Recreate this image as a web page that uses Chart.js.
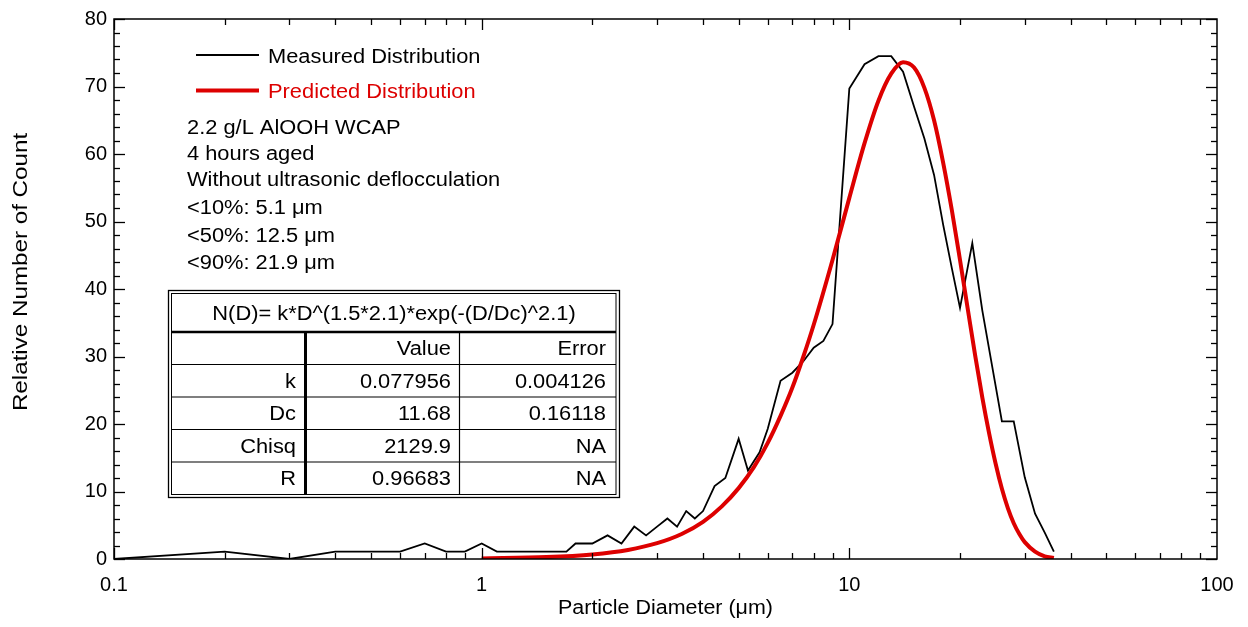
<!DOCTYPE html>
<html>
<head>
<meta charset="utf-8">
<script src="https://cdn.jsdelivr.net/npm/chart.js@4.4.0/dist/chart.umd.min.js"></script>
<style>
  html, body { margin: 0; padding: 0; background: #fff; }
  #wrap { width: 1248px; height: 627px; }
</style>
</head>
<body>
<div id="wrap"><canvas id="c" width="1248" height="627"></canvas></div>
<script>
// measured distribution
const measuredD = [0.1, 0.2, 0.3, 0.4, 0.5, 0.6, 0.7, 0.8, 0.9, 1.0,
  1.1, 1.2, 1.3, 1.4, 1.5, 1.6, 1.7, 1.8, 2.0, 2.2, 2.4, 2.6, 2.8, 3.0,
  3.2, 3.4, 3.6, 3.8, 4.0, 4.3, 4.6, 5.0, 5.3, 5.7, 6.0, 6.5, 7.0, 7.5,
  8.0, 8.5, 9.0, 10, 11, 12, 13, 14, 15, 16, 17, 18, 19, 20, 21.6, 23,
  26, 28, 30, 32, 34, 36];
const measuredN = [0, 1.1, 0, 1.1, 1.1, 1.1, 2.3, 1.1, 1.1, 2.3,
  1.1, 1.1, 1.1, 1.1, 1.1, 1.1, 1.1, 2.3, 2.3, 3.5, 2.3, 4.8, 3.5, 4.8,
  6.0, 4.8, 7.1, 6.0, 7.1, 10.8, 12.0, 17.8, 13.1, 15.8, 19.3, 26.4, 27.6, 29.3,
  31.3, 32.3, 34.8, 69.7, 73.3, 74.5, 74.5, 72.2, 67.0, 62.3, 56.9, 49.5, 43.1, 37.2, 46.8, 36.8,
  20.4, 20.4, 12.1, 6.7, 3.9, 1.1];

// predicted distribution (red curve)
const predictedD = [1, 1.5, 2, 2.5, 3, 3.5, 4, 4.5, 5, 5.5, 6, 6.5, 7, 7.5, 8, 9,
  10, 11, 12, 13, 14, 15, 16, 17, 18, 19, 20, 21, 22, 23, 24, 25, 26, 27, 28,
  29, 30, 32, 34, 36];
const predictedN = [0.08, 0.28, 0.68, 1.34, 2.34, 3.7, 5.5, 7.8, 10.5, 13.6, 17.2, 21.2, 25.4, 30.0, 34.7, 44.3,
  53.5, 61.6, 67.9, 71.9, 73.6, 72.8, 69.8, 65.0, 58.7, 51.7, 44.3, 37.0, 30.1, 23.9, 18.6, 14.1, 10.4, 7.5, 5.3,
  3.7, 2.5, 1.1, 0.4, 0.15];

const xTicks = [0.1, 1, 10, 100];
const yMax = 80;

const xTitle = 'Particle Diameter (\u03bcm)';
const yTitle = 'Relative Number of Count';
const legendLabels = ['Measured Distribution', 'Predicted Distribution'];
const noteLines = [
  '2.2 g/L AlOOH WCAP',
  '4 hours aged',
  'Without ultrasonic deflocculation',
  '<10%: 5.1 \u03bcm',
  '<50%: 12.5 \u03bcm',
  '<90%: 21.9 \u03bcm'
];
const fitTitle = 'N(D)= k*D^(1.5*2.1)*exp(-(D/Dc)^2.1)';
const fitHeader = ['', 'Value', 'Error'];
const fitRows = [
  ['k', '0.077956', '0.004126'],
  ['Dc', '11.68', '0.16118'],
  ['Chisq', '2129.9', 'NA'],
  ['R', '0.96683', 'NA']
];

const RED = '#dd0000';
const FONT = '"Liberation Sans", Arial, sans-serif';
const STRETCH = 1.12;

function txt(ctx, s, x, y, align, color, sx) {
  ctx.save();
  ctx.translate(x, y);
  ctx.scale(sx || STRETCH, 1);
  ctx.textAlign = align || 'left';
  ctx.textBaseline = 'alphabetic';
  ctx.fillStyle = color || '#000';
  ctx.fillText(s, 0, 0);
  ctx.restore();
}

function line(ctx, x1, y1, x2, y2, w, color) {
  ctx.beginPath();
  ctx.lineWidth = w;
  ctx.strokeStyle = color || '#000';
  ctx.moveTo(x1, y1);
  ctx.lineTo(x2, y2);
  ctx.stroke();
}

const decorPlugin = {
  id: 'decor',
  afterDatasetsDraw(chart) {
    const ctx = chart.ctx;
    const a = chart.chartArea;
    const xs = chart.scales.x, ys = chart.scales.y;
    ctx.save();
    ctx.lineCap = 'butt';

    // frame
    ctx.lineWidth = 1.5;
    ctx.strokeStyle = '#000';
    ctx.strokeRect(a.left, a.top, a.right - a.left, a.bottom - a.top);

    // y ticks, inward on both sides
    for (let v = 0; v <= yMax; v += 2) {
      const py = Math.round(ys.getPixelForValue(v)) + 0.5;
      const len = v % 10 === 0 ? 11 : 6;
      line(ctx, a.left, py, a.left + len, py, 1.3);
      line(ctx, a.right, py, a.right - len, py, 1.3);
    }
    // x ticks, log decades
    for (let d = 0.1; d < 100; d *= 10) {
      for (let m = 1; m <= 9; m++) {
        const v = d * m;
        const px = Math.round(xs.getPixelForValue(v)) + 0.5;
        const len = m === 1 ? 11 : 6;
        line(ctx, px, a.bottom, px, a.bottom - len, 1.3);
        line(ctx, px, a.top, px, a.top + len, 1.3);
      }
    }

    // axis titles
    ctx.font = '19.5px ' + FONT;
    txt(ctx, xTitle, (a.left + a.right) / 2, 614, 'center', '#000', 1.1);
    ctx.save();
    ctx.translate(27, 272);
    ctx.rotate(-Math.PI / 2);
    txt(ctx, yTitle, 0, 0, 'center', '#000', 1.24);
    ctx.restore();

    // legend
    const ds = chart.data.datasets;
    const legY = [55, 90.5];
    const legBase = [63.3, 98.3];
    ds.forEach((d, i) => {
      line(ctx, 196, legY[i], 259, legY[i], d.borderWidth, d.borderColor);
      txt(ctx, legendLabels[i], 268, legBase[i], 'left', i === 1 ? RED : '#000');
    });

    // notes
    const noteBase = [134, 159.5, 186, 214, 241.7, 269.3];
    noteLines.forEach((s, i) => txt(ctx, s, 187, noteBase[i]));

    // fit table
    ctx.fillStyle = '#fff';
    ctx.fillRect(168, 290, 452, 208);
    ctx.lineWidth = 1.3;
    ctx.strokeStyle = '#000';
    ctx.strokeRect(168.5, 290.5, 451, 207);
    ctx.lineWidth = 1;
    ctx.strokeRect(171.5, 293.5, 444.5, 201);
    line(ctx, 171.5, 332, 616, 332, 2.5);
    [364.5, 397, 429.5, 462].forEach(yy => line(ctx, 171.5, yy, 616, yy, 1.2));
    line(ctx, 305.5, 332, 305.5, 494.5, 3);
    line(ctx, 459.5, 332, 459.5, 494.5, 1.2);

    txt(ctx, fitTitle, 394, 320, 'center');
    const colRight = [296, 451, 606];
    const rowBase = [355, 387.5, 420, 452.5, 485];
    [fitHeader].concat(fitRows).forEach((row, r) => {
      row.forEach((cell, c) => {
        if (cell) txt(ctx, cell, colRight[c], rowBase[r], 'right');
      });
    });

    ctx.restore();
  }
};

const ctx = document.getElementById('c').getContext('2d');
new Chart(ctx, {
  type: 'scatter',
  data: {
    datasets: [
      {
        label: legendLabels[0],
        data: measuredD.map((d, i) => ({ x: d, y: measuredN[i] })),
        showLine: true,
        borderColor: '#000',
        borderWidth: 1.8,
        pointRadius: 0,
        tension: 0,
        order: 2
      },
      {
        label: legendLabels[1],
        data: predictedD.map((d, i) => ({ x: d, y: predictedN[i] })),
        showLine: true,
        borderColor: RED,
        borderWidth: 4,
        pointRadius: 0,
        cubicInterpolationMode: 'monotone',
        order: 1
      }
    ]
  },
  options: {
    responsive: false,
    animation: false,
    devicePixelRatio: 1,
    layout: { padding: { top: 0, right: 31, left: 0, bottom: 0 } },
    plugins: { legend: { display: false }, tooltip: { enabled: false } },
    scales: {
      x: {
        type: 'logarithmic',
        min: 0.1,
        max: 100,
        afterBuildTicks(s) { s.ticks = xTicks.map(v => ({ value: v })); },
        afterFit(s) { s.height = 68; },
        grid: { display: false, drawTicks: false },
        border: { display: false },
        ticks: {
          color: '#000',
          font: { family: FONT, size: 20 },
          padding: 14,
          maxRotation: 0,
          autoSkip: false,
          callback: v => String(v)
        },
        title: { display: false }
      },
      y: {
        min: 0,
        max: yMax,
        afterFit(s) { s.width = 114; },
        grid: { display: false, drawTicks: false },
        border: { display: false },
        ticks: {
          stepSize: 10,
          color: '#000',
          font: { family: FONT, size: 20 },
          padding: 7
        },
        title: { display: false }
      }
    }
  },
  plugins: [decorPlugin]
});
</script>
</body>
</html>
